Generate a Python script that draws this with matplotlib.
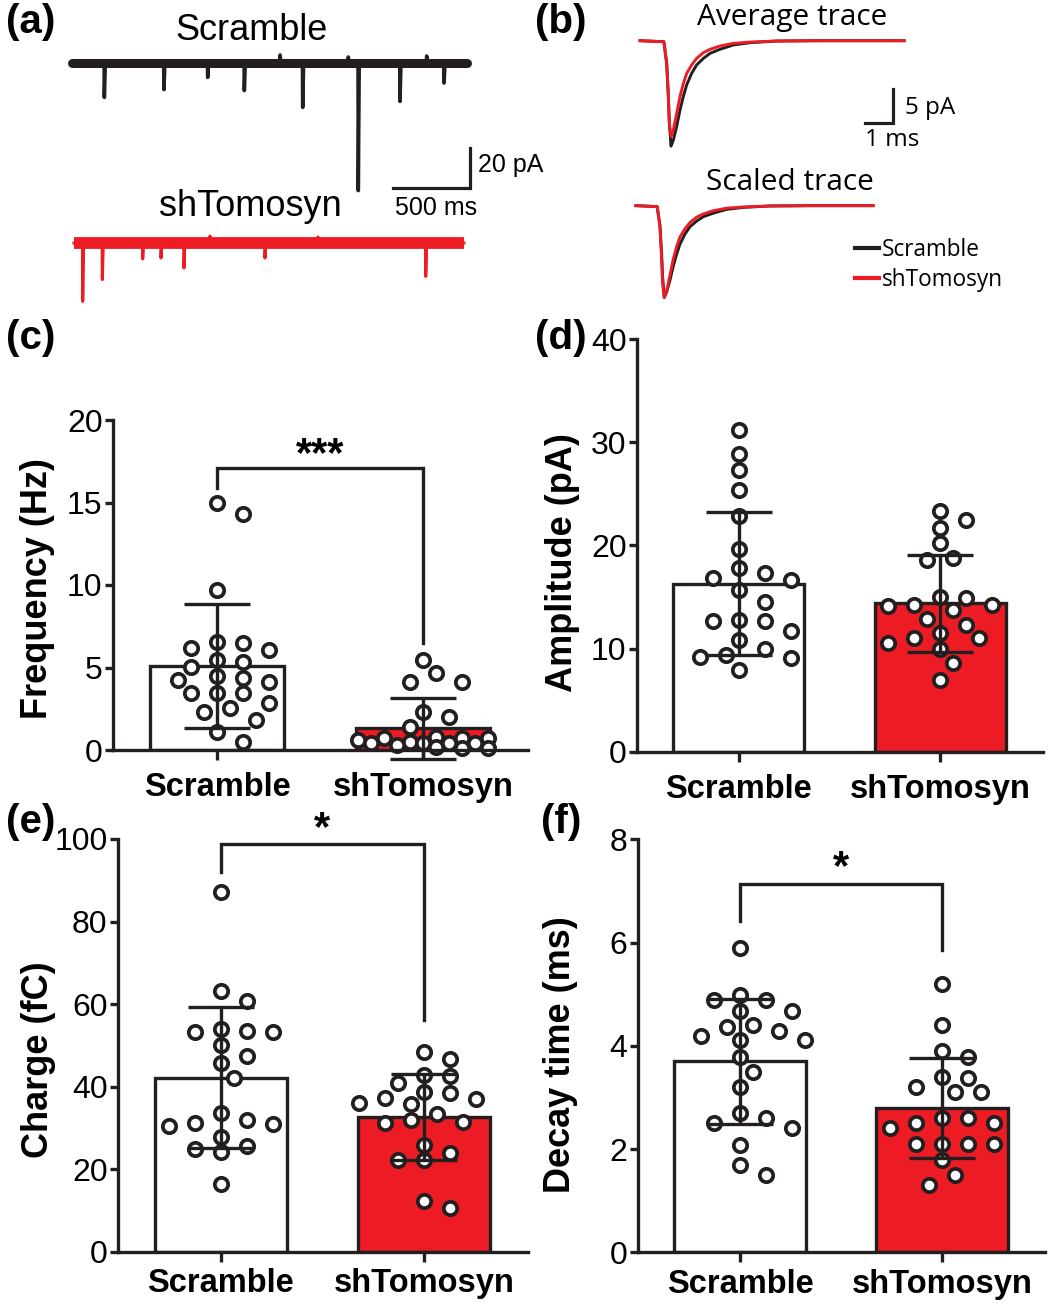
import numpy as np
import matplotlib
matplotlib.use("Agg")
import matplotlib.pyplot as plt

W, H = 1064, 1307
BLK = "#231f20"
RED = "#ed1c24"
ARIAL = "Liberation Sans"
SEGOE = "Open Sans"

plt.rcParams["font.family"] = [ARIAL, "DejaVu Sans"]

# ---------------- data ----------------
groups = ["Scramble", "shTomosyn"]

# (a) example traces: event times (ms) and amplitudes (pA, inward = negative)
scr_trace_span = [0, 2565]
scr_event_t = [210, 597, 881, 1119, 1351, 1498, 1794, 1859, 2130, 2303, 2416]
scr_event_amp = [-17.2, -13.3, -7.2, -13.8, 4.0, -22.2, 3.0, -63.8, -19.2, 3.5, -10.0]
sh_trace_span = [13, 2545]
sh_event_t = [69.5, 197, 459, 578, 727, 896, 1253, 1597, 2297]
sh_event_amp = [-29.2, -18.3, -8.0, -7.5, -12.5, 3.5, -7.5, 3.0, -16.7]

# (b) average mEPSC traces (ms, pA)
avg_t = [-0.89, -0.04, 0.06, 0.12, 0.155, 0.214, 0.298, 0.417, 0.536, 0.655, 0.774,
         0.952, 1.13, 1.37, 1.61, 1.96, 2.44, 3.04, 3.99, 5.5, 8.54]
avg_scr = [0, -0.15, -3.3, -8.2, -12.1, -15.5, -14.6, -12.6, -10.2, -8.2, -6.5,
           -4.8, -3.57, -2.6, -1.86, -1.27, -0.63, -0.29, -0.05, 0, 0]
avg_sh = [0, -0.15, -3.3, -8.2, -12.1, -14.1, -13.1, -10.7, -8.2, -6.3, -4.8,
          -3.57, -2.6, -1.76, -1.27, -0.78, -0.39, -0.2, -0.05, 0, 0]
scaled_peak = 13.5

# (c) frequency (Hz)
freq_scr = [14.95, 14.3, 9.7, 6.16, 6.57, 6.06, 6.46, 5.35, 5.05, 5.45, 4.24, 4.48,
            4.34, 4.14, 3.43, 3.43, 3.43, 2.87, 2.32, 2.53, 1.82, 1.11, 0.5]
freq_sh = [5.45, 4.65, 4.1, 4.15, 2.3, 2.0, 1.4, 0.8, 0.75, 0.7, 0.7, 0.6, 0.5,
           0.45, 0.4, 0.4, 0.4, 0.3, 0.2, 0.1, 0.1]
freq_mean = [5.1, 1.31]
freq_sd = [3.75, 1.86]

# (d) amplitude (pA)
amp_scr = [31.2, 28.9, 27.3, 25.4, 22.8, 19.6, 17.8, 16.65, 17.3, 16.8, 15.7, 14.55,
           12.7, 12.7, 12.8, 11.7, 10.83, 10.0, 9.2, 9.05, 9.4, 7.9]
amp_sh = [22.5, 23.3, 21.7, 20.2, 18.6, 18.75, 15.0, 14.1, 14.2, 14.2, 14.9, 13.7,
          12.9, 12.3, 11.5, 11.0, 11.0, 10.5, 10.0, 8.57, 6.95]
amp_mean = [16.3, 14.4]
amp_sd = [6.9, 4.7]

# (e) charge (fC)
chg_scr = [87.2, 63.2, 60.7, 53.3, 53.9, 50.2, 53.3, 53.5, 47.4, 45.8, 42.2, 33.5,
           31.3, 31.9, 27.9, 30.5, 30.9, 25.6, 24.2, 25.0, 16.4]
chg_sh = [48.3, 46.6, 42.6, 40.8, 42.8, 38.4, 38.8, 36.9, 36.1, 35.8, 37.2, 33.3,
          31.1, 31.9, 31.5, 25.8, 24.0, 22.1, 22.1, 10.7, 12.4]
chg_mean = [42.2, 32.7]
chg_sd = [17.0, 10.4]

# (f) decay time (ms)
dec_scr = [5.89, 4.89, 4.98, 4.89, 4.68, 4.68, 4.40, 4.37, 4.29, 4.11, 4.11, 4.19,
           3.79, 3.50, 3.21, 2.69, 2.60, 2.50, 2.40, 2.08, 1.69, 1.50]
dec_sh = [5.20, 4.40, 3.89, 3.78, 3.40, 3.38, 3.21, 3.11, 3.11, 2.60, 2.50, 2.50,
          2.60, 2.40, 2.10, 2.10, 2.10, 2.10, 1.79, 1.50, 1.30]
dec_mean = [3.7, 2.8]
dec_sd = [1.21, 0.97]

# ---------------- figure ----------------
fig = plt.figure(figsize=(W / 100, H / 100), dpi=100)


def add_axes_px(left, top, right, bottom):
    return fig.add_axes([left / W, 1 - bottom / H, (right - left) / W, (bottom - top) / H])


def ftxt(x, y, s, **kw):
    fig.text(x / W, 1 - y / H, s, **kw)


# panel letters
for lab, (x, y) in {"(a)": (31, 22), "(b)": (561, 22), "(c)": (31, 338),
                    "(d)": (561, 338), "(e)": (31, 822), "(f)": (561, 822)}.items():
    ftxt(x, y, lab, fontsize=29, fontweight="bold", ha="center", va="center",
         family=ARIAL)


# ---------------- (a) ----------------
def trace_xy(span, ev_t, ev_a):
    t = [span[0]]
    v = [0.0]
    for tt, aa in zip(ev_t, ev_a):
        t += [tt - 1.5, tt, tt + 6]
        v += [0.0, aa, 0.0]
    t.append(span[1])
    v.append(0.0)
    return np.array(t), np.array(v)


axa = add_axes_px(60, 40, 500, 320)
px_ms, px_pa = 0.154, 2.0
xl0 = (60 - 72) / px_ms
axa.set_xlim(xl0, xl0 + 440 / px_ms)
axa.set_ylim(11.5 - 280 / px_pa, 11.5)
axa.set_axis_off()
sh_off = -90.0
t1, v1 = trace_xy(scr_trace_span, scr_event_t, scr_event_amp)
axa.plot(scr_trace_span, [0, 0], color=BLK, lw=6.5, solid_capstyle="round")
axa.plot(t1, v1, color=BLK, lw=2.6)
t2, v2 = trace_xy(sh_trace_span, sh_event_t, sh_event_amp)
axa.plot(sh_trace_span, [sh_off, sh_off], color=RED, lw=8.5, solid_capstyle="butt")
axa.plot(t2, v2 + sh_off, color=RED, lw=2.2)
# scale bar 500 ms / 20 pA
axa.plot([2584 - 500, 2584, 2584], [-62.5, -62.5, -42.5], color=BLK, lw=2.3,
         solid_joinstyle="miter")
ftxt(252, 30, "Scramble", fontsize=26, ha="center", va="center")
ftxt(250, 207, "shTomosyn", fontsize=26, ha="center", va="center")
ftxt(478, 165, "20 pA", fontsize=18, ha="left", va="center")
ftxt(436, 208, "500 ms", fontsize=18, ha="center", va="center")

# ---------------- (b) ----------------
axb = add_axes_px(630, 0, 1060, 310)
b_ms, b_pa = 28.0, 6.8
bx0 = -(665 - 630) / b_ms
axb.set_xlim(bx0, bx0 + 430 / b_ms)
axb.set_ylim(-(310 - 40.7) / b_pa, 40.7 / b_pa)
axb.set_axis_off()
axb.plot(avg_t, avg_scr, color=BLK, lw=2.1)
axb.plot(avg_t, avg_sh, color=RED, lw=2.1)
sc_off, sc_shift = -24.26, -0.24
tt = np.clip(np.array(avg_t), -0.8, 7.67) + sc_shift
ls, = axb.plot(tt, np.array(avg_scr) / abs(min(avg_scr)) * scaled_peak + sc_off,
               color=BLK, lw=2.1, label="Scramble")
lr, = axb.plot(tt, np.array(avg_sh) / abs(min(avg_sh)) * scaled_peak + sc_off,
               color=RED, lw=2.1, label="shTomosyn")
axb.plot([7.14, 8.14, 8.14], [-12.1, -12.1, -7.1], color=BLK, lw=2.3,
         solid_joinstyle="miter")
ftxt(792, 18, "Average trace", fontsize=21.5, family=SEGOE, ha="center", va="center")
ftxt(790, 183, "Scaled trace", fontsize=21.5, family=SEGOE, ha="center", va="center")
ftxt(905, 108, "5 pA", fontsize=17.5, family=SEGOE, ha="left", va="center")
ftxt(892, 140, "1 ms", fontsize=17.5, family=SEGOE, ha="center", va="center")
leg = axb.legend(handles=[ls, lr], loc="center left",
                 bbox_to_anchor=(855 / W, 1 - 265 / H), bbox_transform=fig.transFigure,
                 frameon=False, handlelength=1.05, handletextpad=0.15, labelspacing=0.3,
                 borderpad=0, borderaxespad=0, prop={"family": SEGOE, "size": 16.3})
for ln in leg.get_lines():
    ln.set_linewidth(3.0)


# ---------------- bar panels ----------------
def swarm_x(ax, xc, vals, step_px=13.0, dx_px=26.0, dy_px=15.0, kmax=5):
    tr = ax.transData
    x0p = tr.transform((xc, 0))[0]
    placed = []
    xs = [None] * len(vals)
    order = sorted(range(len(vals)), key=lambda i: -vals[i])
    ks = [0] + [s * k for k in range(1, kmax + 1) for s in (1, -1)]
    for i in order:
        yp = tr.transform((xc, vals[i]))[1]
        best, best_cost = x0p, None
        for k in ks:
            xp = x0p + k * step_px
            cost = 0.0
            for a, b in placed:
                d = ((xp - a) / dx_px) ** 2 + ((yp - b) / dy_px) ** 2
                if d < 1:
                    cost = max(cost, 1 - d)
            if cost == 0.0:
                best = xp
                break
            if best_cost is None or cost < best_cost - 1e-9:
                best, best_cost = xp, cost
        placed.append((best, yp))
        xs[i] = tr.inverted().transform((best, yp))[0]
    return xs


def bar_panel(box, ymax, yticks, pts, means, sds, ylabel, ylab_xy, bracket=None,
              xpad=6):
    ax = add_axes_px(*box)
    ax.set_xlim(-0.505, 1.51)
    ax.set_ylim(0, ymax)
    ax.bar([0, 1], means, width=0.65, color=["white", RED], edgecolor=BLK,
           linewidth=2.4, zorder=1)
    for xc, vals in zip([0, 1], pts):
        xs = swarm_x(ax, xc, vals)
        ax.plot(xs, vals, "o", mfc="white", mec=BLK, ms=9.6, mew=2.7, zorder=2,
                clip_on=False)
    ax.errorbar([0, 1], means, yerr=sds, fmt="none", ecolor=BLK, elinewidth=2.4,
                capsize=24, capthick=2.4, zorder=3, clip_on=False)
    for sp in ["top", "right"]:
        ax.spines[sp].set_visible(False)
    for sp in ["left", "bottom"]:
        ax.spines[sp].set_linewidth(2.4)
        ax.spines[sp].set_color(BLK)
    ax.spines["left"].set_bounds(0, ymax)
    ax.set_yticks(yticks)
    ax.set_yticklabels([str(v) for v in yticks])
    ax.set_xticks([0, 1])
    ax.set_xticklabels(groups, fontweight="bold", fontsize=23.5)
    ax.tick_params(axis="y", length=6, width=2.4, pad=1.5, labelsize=23, color=BLK)
    ax.tick_params(axis="x", length=7, width=2.4, pad=xpad, color=BLK)
    ftxt(ylab_xy[0], ylab_xy[1], ylabel, rotation=90, fontsize=26, fontweight="bold",
         ha="center", va="center")
    if bracket is not None:
        yl, yh, yr, stars, ys = bracket
        ax.plot([0, 0, 1, 1], [yl, yh, yh, yr], color=BLK, lw=2.4, clip_on=False,
                solid_joinstyle="miter")
        ax.text(0.5, ys, stars, ha="center", va="center", fontsize=30,
                fontweight="bold", clip_on=False)
    ax.patch.set_visible(False)
    return ax


bar_panel((113, 420, 528, 750), 20, [0, 5, 10, 15, 20], [freq_scr, freq_sh],
          freq_mean, freq_sd, "Frequency (Hz)", (38, 589),
          bracket=(15.9, 17.1, 6.5, "***", 17.9), xpad=9)
bar_panel((637, 339, 1043, 751.7), 40, [0, 10, 20, 30, 40], [amp_scr, amp_sh],
          amp_mean, amp_sd, "Amplitude (pA)", (562, 563), xpad=9)
bar_panel((118, 839, 528, 1251.7), 100, [0, 20, 40, 60, 80, 100], [chg_scr, chg_sh],
          chg_mean, chg_sd, "Charge (fC)", (39, 1060),
          bracket=(92.1, 98.8, 56.1, "*", 102.5), xpad=5)
bar_panel((638, 839.3, 1045, 1252.3), 8, [0, 2, 4, 6, 8], [dec_scr, dec_sh],
          dec_mean, dec_sd, "Decay time (ms)", (561, 1055),
          bracket=(6.41, 7.13, 5.86, "*", 7.45), xpad=5)

fig.savefig("out.png", dpi=100)
